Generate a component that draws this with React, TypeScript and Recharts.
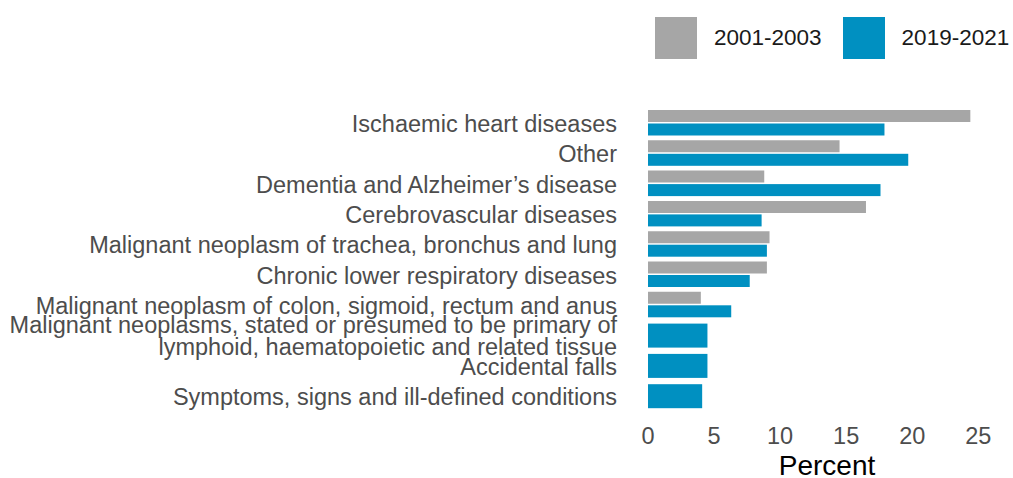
import React from "react";
import { BarChart, Bar, XAxis, YAxis } from "recharts";

const causes = [
  "Ischaemic heart diseases",
  "Other",
  "Dementia and Alzheimer\u2019s disease",
  "Cerebrovascular diseases",
  "Malignant neoplasm of trachea, bronchus and lung",
  "Chronic lower respiratory diseases",
  "Malignant neoplasm of colon, sigmoid, rectum and anus",
  "Malignant neoplasms, stated or presumed to be primary of\nlymphoid, haematopoietic and related tissue",
  "Accidental falls",
  "Symptoms, signs and ill-defined conditions"
];

const early: (number | null)[] = [24.4, 14.5, 8.8, 16.5, 9.2, 9.0, 4.0, null, null, null];
const recent = [17.9, 19.7, 17.6, 8.6, 9.0, 7.7, 6.3, 4.5, 4.5, 4.1];

const xTicks = [0, 5, 10, 15, 20, 25];

const GREY = "#a6a6a6";
const BLUE = "#0090c1";
const FONT = "'Liberation Sans', Arial, sans-serif";
const BAR = 12;
const GAP = 1.5;

const data = causes.map((cause, i) => ({ cause, early: early[i], recent: recent[i] }));

function CauseTick({ x, y, payload }: any) {
  const lines = String(payload.value).split("\n");
  const lh = 22;
  const first = -((lines.length - 1) * lh) / 2;
  return (
    <text x={x} y={y} textAnchor="end" fill="#4d4d4d" fontSize={23.5} fontFamily={FONT}>
      {lines.map((l, i) => (
        <tspan key={i} x={x} dy={i === 0 ? first + 9 : lh}>
          {l}
        </tspan>
      ))}
    </text>
  );
}

function PctTick({ x, y, payload }: any) {
  return (
    <text x={x} y={y + 33} textAnchor="middle" fill="#4d4d4d" fontSize={23.5} fontFamily={FONT}>
      {payload.value}
    </text>
  );
}

// when the earlier period is missing, the recent bar takes the full slot
function RecentBar({ x, y, width, height, payload }: any) {
  if (!width || width <= 0) return null;
  if (payload.early == null) {
    return <rect x={x} y={y - 12} width={width} height={24} fill={BLUE} />;
  }
  return <rect x={x} y={y} width={width} height={height} fill={BLUE} />;
}

function LegendBox() {
  const item = (color: string, label: string) => (
    <div style={{ display: "flex", alignItems: "center", marginRight: 21 }}>
      <div style={{ width: 42, height: 42, background: color, marginRight: 17, flexShrink: 0 }} />
      <span style={{ fontSize: 22.5, fontFamily: FONT, color: "#1a1a1a", whiteSpace: "nowrap" }}>{label}</span>
    </div>
  );
  return (
    <div style={{ position: "absolute", left: 655, top: 17, height: 42, display: "flex", width: 358 }}>
      {item(GREY, "2001-2003")}
      {item(BLUE, "2019-2021")}
    </div>
  );
}

export default function App() {
  return (
    <div style={{ position: "absolute", left: 0, top: 0, width: 1013, height: 478, background: "#fff", overflow: "hidden" }}>
      <LegendBox />
      <BarChart
        width={1013}
        height={478}
        data={data}
        layout="vertical"
        margin={{ top: 108, right: 7, bottom: 0, left: 0 }}
        barSize={BAR}
        barGap={GAP}
      >
        <XAxis
          type="number"
          domain={[0, 27.1]}
          ticks={xTicks}
          axisLine={false}
          tickLine={false}
          tickSize={0}
          tickMargin={0}
          height={67}
          tick={<PctTick />}
          label={{ value: "Percent", position: "insideBottom", offset: 3, fill: "#000", fontSize: 28, fontFamily: FONT }}
        />
        <YAxis
          type="category"
          dataKey="cause"
          width={648}
          axisLine={false}
          tickLine={false}
          tickSize={0}
          tickMargin={31}
          interval={0}
          tick={<CauseTick />}
        />
        <Bar dataKey="early" fill={GREY} isAnimationActive={false} />
        <Bar dataKey="recent" fill={BLUE} isAnimationActive={false} shape={<RecentBar />} />
      </BarChart>
    </div>
  );
}
